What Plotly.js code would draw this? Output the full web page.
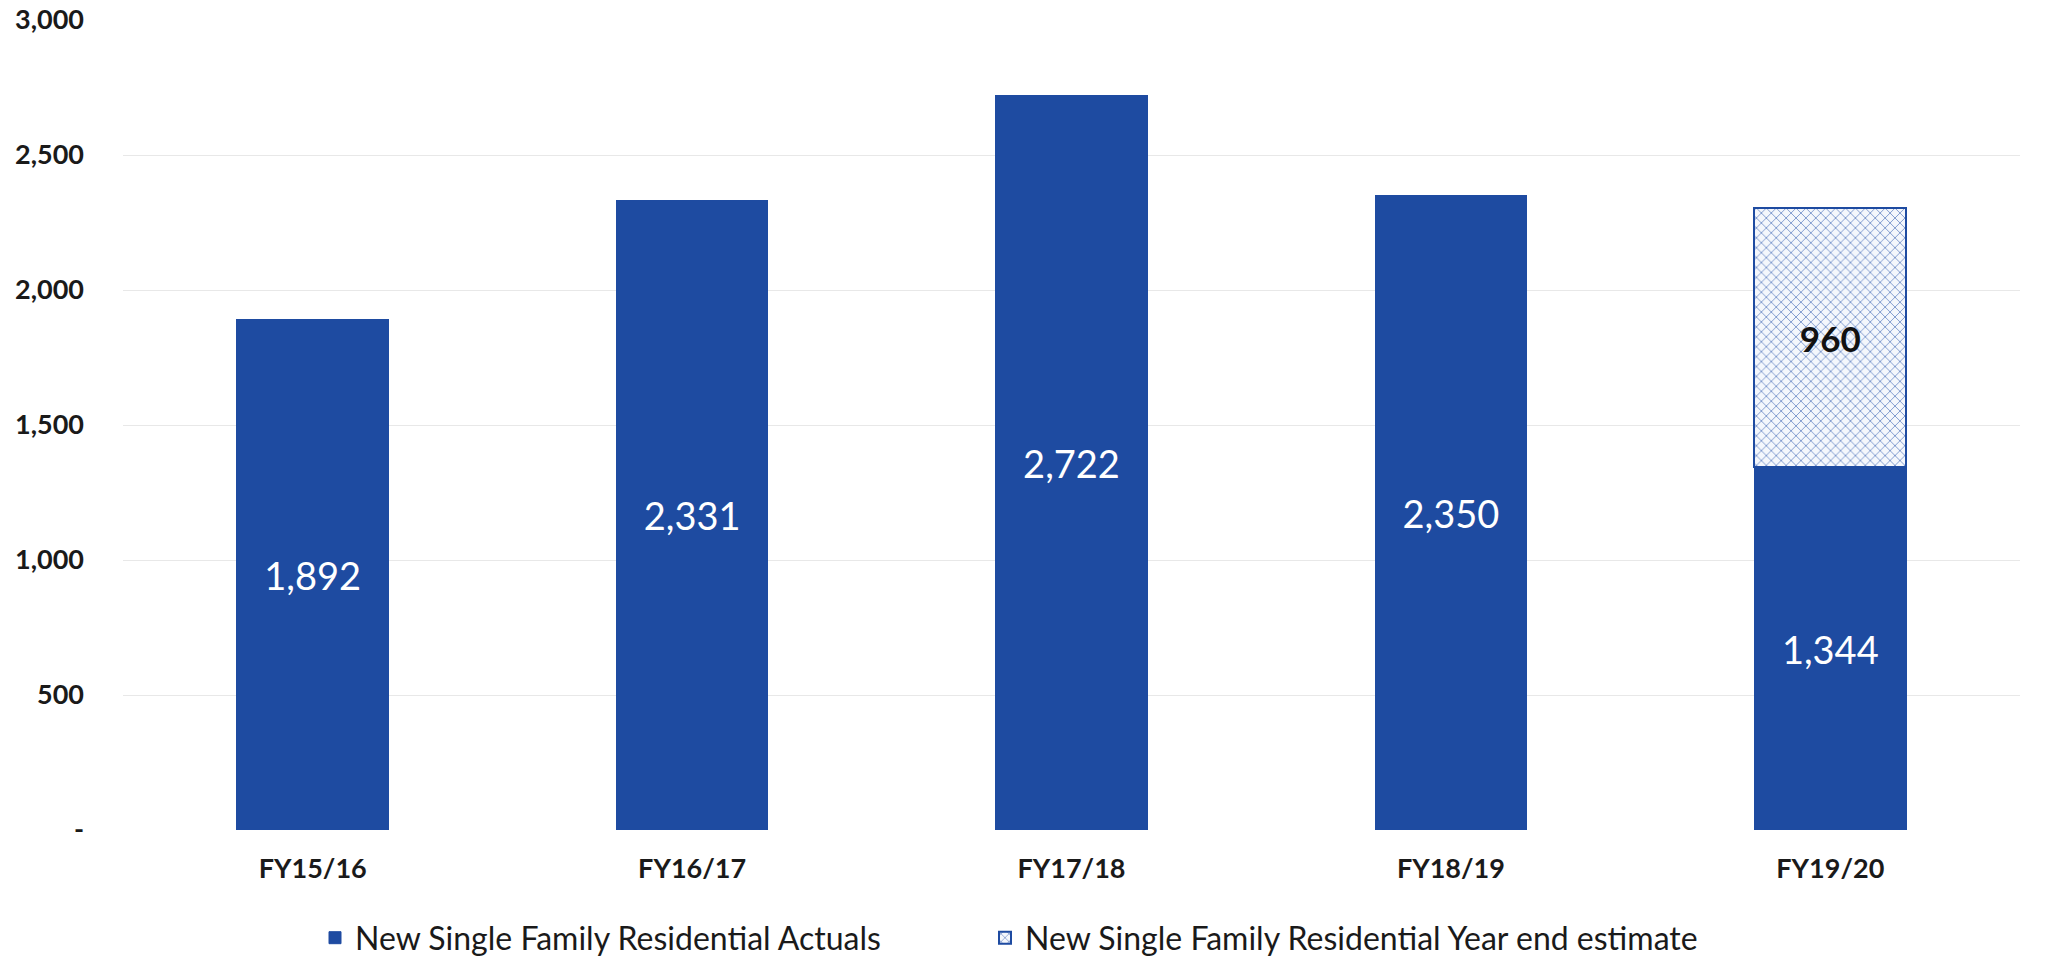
<!DOCTYPE html>
<html>
<head>
<meta charset="utf-8">
<script src="https://cdn.plot.ly/plotly-3.0.1.min.js"></script>
<style>html,body{margin:0;padding:0;background:#fff;}#chart{width:2049px;height:959px;}</style>
</head>
<body>
<div id="chart"></div>
<script>
const categories = ["FY15/16", "FY16/17", "FY17/18", "FY18/19", "FY19/20"];
const actuals = [1892, 2331, 2722, 2350, 1344];
const estimate = [null, null, null, null, 960];
const yTickVals = [0, 500, 1000, 1500, 2000, 2500, 3000];
const yTickText = ["-", "500", "1,000", "1,500", "2,000", "2,500", "3,000"];
const seriesNames = ["New Single Family Residential Actuals", "New Single Family Residential Year end estimate"];

const blue = "#1e4ba1";
const fontFam = "Lato, 'Open Sans', sans-serif";

const fmt = v => v == null ? "" : v.toLocaleString("en-US");

const traces = [
  {
    type: "bar",
    name: seriesNames[0],
    x: categories,
    y: actuals,
    text: actuals.map(fmt),
    textposition: "inside",
    insidetextanchor: "middle",
    textangle: 0,
    textfont: {family: fontFam, size: 38, color: "#ffffff"},
    marker: {color: blue, line: {color: blue, width: 1}},
    legend: "legend",
    hoverinfo: "skip"
  },
  {
    type: "bar",
    name: seriesNames[1],
    x: categories,
    y: estimate,
    text: estimate.map(fmt),
    textposition: "inside",
    insidetextanchor: "middle",
    textangle: 0,
    textfont: {family: fontFam, size: 35, color: "#111111", weight: "bold"},
    marker: {
      color: "#ffffff",
      line: {color: blue, width: 2},
      pattern: {shape: "x", fgcolor: "#7d97cc", bgcolor: "#f4f7fc", size: 7, solidity: 0.25}
    },
    legend: "legend2",
    hoverinfo: "skip"
  }
];

const legendBase = {
  orientation: "h",
  xref: "container",
  xanchor: "left",
  yref: "container",
  y: 0.022,
  yanchor: "middle",
  font: {family: fontFam, size: 32, color: "#1a1a1a"}
};

const layout = {
  width: 2049,
  height: 959,
  paper_bgcolor: "#ffffff",
  plot_bgcolor: "#ffffff",
  margin: {l: 123, r: 29, t: 20, b: 129},
  barmode: "stack",
  bargap: 0.6,
  showlegend: true,
  font: {family: fontFam, color: "#1a1a1a"},
  xaxis: {
    type: "category",
    tickfont: {family: fontFam, size: 27, color: "#1a1a1a", weight: "bold"},
    showgrid: false,
    zeroline: false,
    showline: false,
    ticks: "",
    ticklabelstandoff: 20
  },
  yaxis: {
    range: [0, 3000],
    tickvals: yTickVals,
    ticktext: yTickText,
    tickfont: {family: fontFam, size: 27, color: "#1a1a1a", weight: "bold"},
    showgrid: true,
    gridcolor: "#e8e8e8",
    gridwidth: 1,
    zeroline: false,
    showline: false,
    ticks: "",
    ticklabelstandoff: 38
  },
  legend: Object.assign({}, legendBase, {x: 315 / 2049}),
  legend2: Object.assign({}, legendBase, {x: 985 / 2049})
};

Plotly.newPlot("chart", traces, layout, {displayModeBar: false, staticPlot: true});
</script>
</body>
</html>
